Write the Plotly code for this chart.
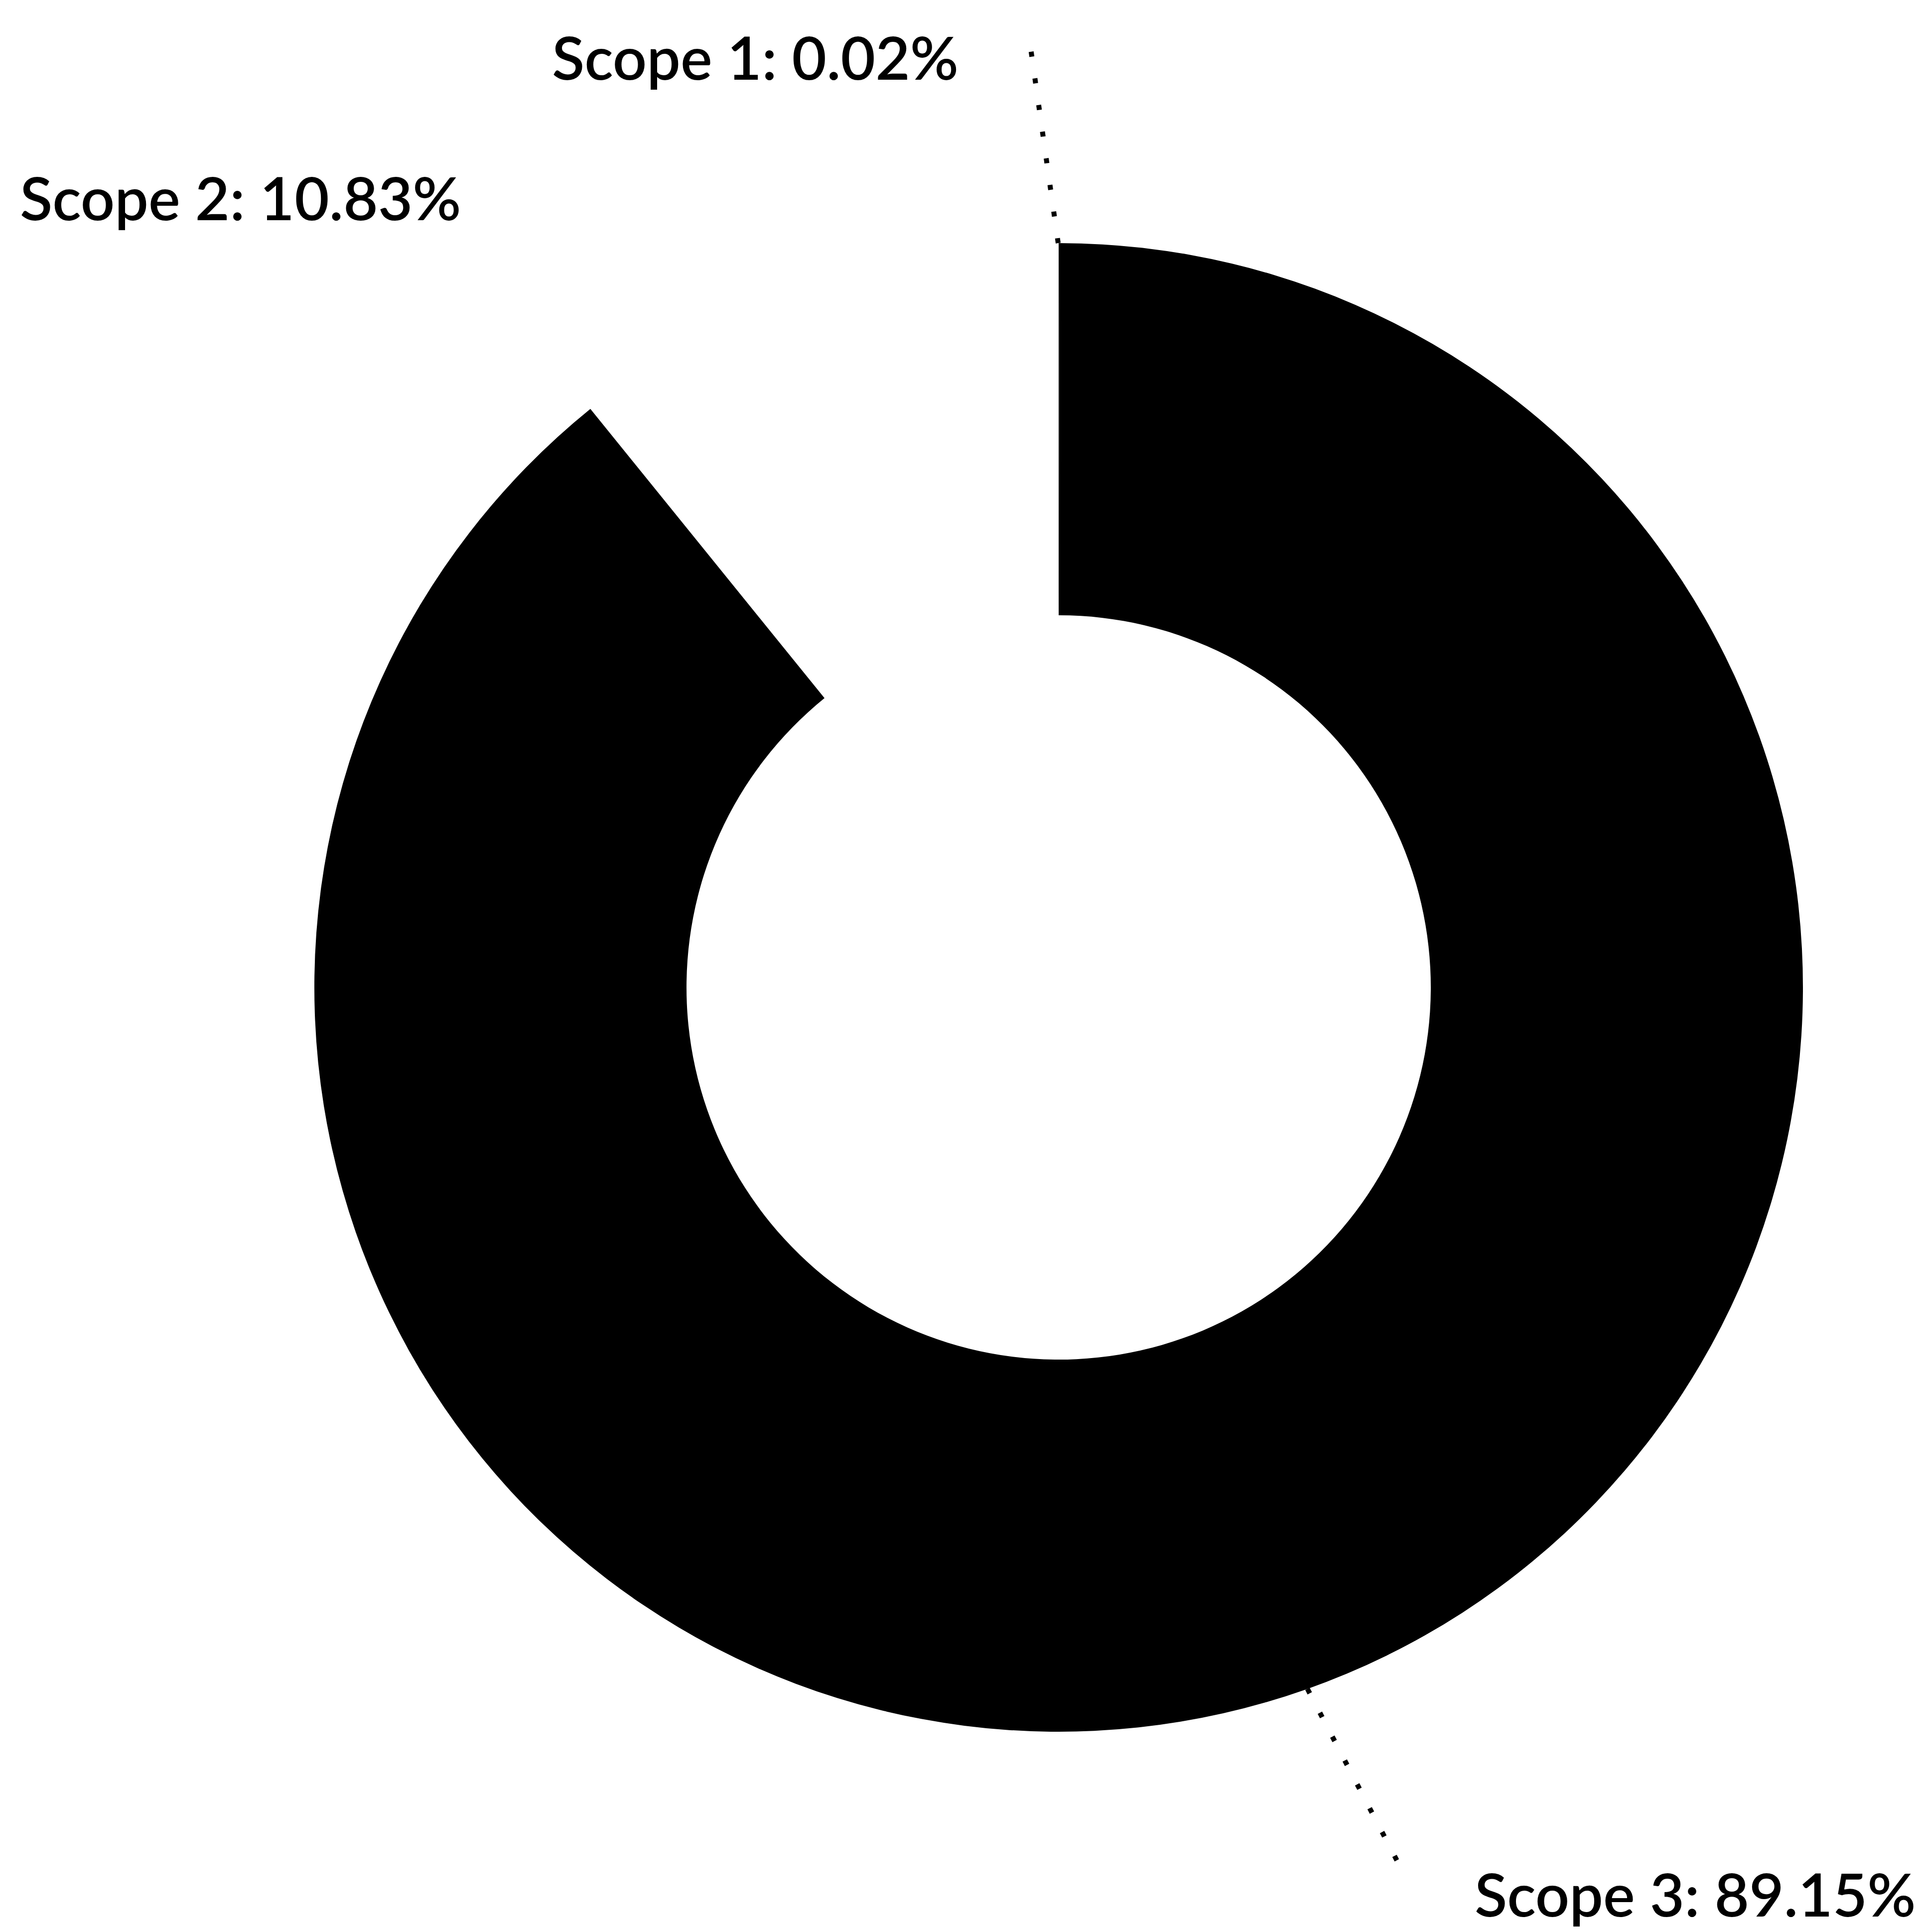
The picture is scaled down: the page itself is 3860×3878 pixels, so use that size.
import math
import plotly.graph_objects as go

# ---- data ----
categories = ["Scope 1", "Scope 2", "Scope 3"]
values = [0.02, 10.83, 89.15]
label_texts = ["Scope 1: 0.02%", "Scope 2: 10.83%", "Scope 3: 89.15%"]
slice_colors = ["#000000", "#ffffff", "#000000"]

# ---- layout constants ----
W, H = 3860, 3878
CX, CY, R = 2117, 1974, 1494          # pie centre / outer radius in px (y from top)
HOLE = 0.5
LEADER_LEN = [0.28, 0.40, 0.28]       # fraction of R
LEADER_TURN = [-8, -49, -8]           # deg, relative to radial direction
LABEL_GAP_X, LABEL_GAP_Y = 140, 40
FONT = "Lato"
FONT_SIZE = 120
FONT_WEIGHT = 600

fig = go.Figure()
fig.add_trace(go.Pie(
    labels=categories,
    values=values,
    hole=HOLE,
    sort=False,
    direction="counterclockwise",
    rotation=0,
    marker=dict(colors=slice_colors, line=dict(width=0)),
    textinfo="none",
    hoverinfo="label+percent",
    showlegend=False,
    domain=dict(x=[(CX - R) / W, (CX + R) / W],
                y=[(H - CY - R) / H, (H - CY + R) / H]),
))

total = sum(values)
cum = 0.0
shapes, annotations = [], []
for i, v in enumerate(values):
    mid = -(cum + v / 2) / total * 360.0   # degrees clockwise from 12 o'clock
    cum += v
    th = math.radians(mid)
    sx, sy = CX + R * math.sin(th), CY - R * math.cos(th)
    th2 = math.radians(mid + LEADER_TURN[i])
    L = LEADER_LEN[i] * R
    ex, ey = sx + L * math.sin(th2), sy - L * math.cos(th2)
    shapes.append(dict(type="line", xref="paper", yref="paper",
                       x0=sx / W, y0=1 - sy / H, x1=ex / W, y1=1 - ey / H,
                       line=dict(color=slice_colors[i], width=10, dash="10px,44px")))
    right_side = ex > CX
    lx = ex + LABEL_GAP_X if right_side else ex - LABEL_GAP_X
    ly = ey + LABEL_GAP_Y
    annotations.append(dict(text=label_texts[i], xref="paper", yref="paper",
                            x=lx / W, y=1 - ly / H, showarrow=False,
                            xanchor="left" if right_side else "right", yanchor="middle",
                            font=dict(family=FONT, size=FONT_SIZE, color="#000000",
                                      weight=FONT_WEIGHT)))

fig.update_layout(
    width=W, height=H,
    margin=dict(l=0, r=0, t=0, b=0),
    paper_bgcolor="#ffffff", plot_bgcolor="#ffffff",
    shapes=shapes, annotations=annotations,
)
fig.write_html("out.html")
